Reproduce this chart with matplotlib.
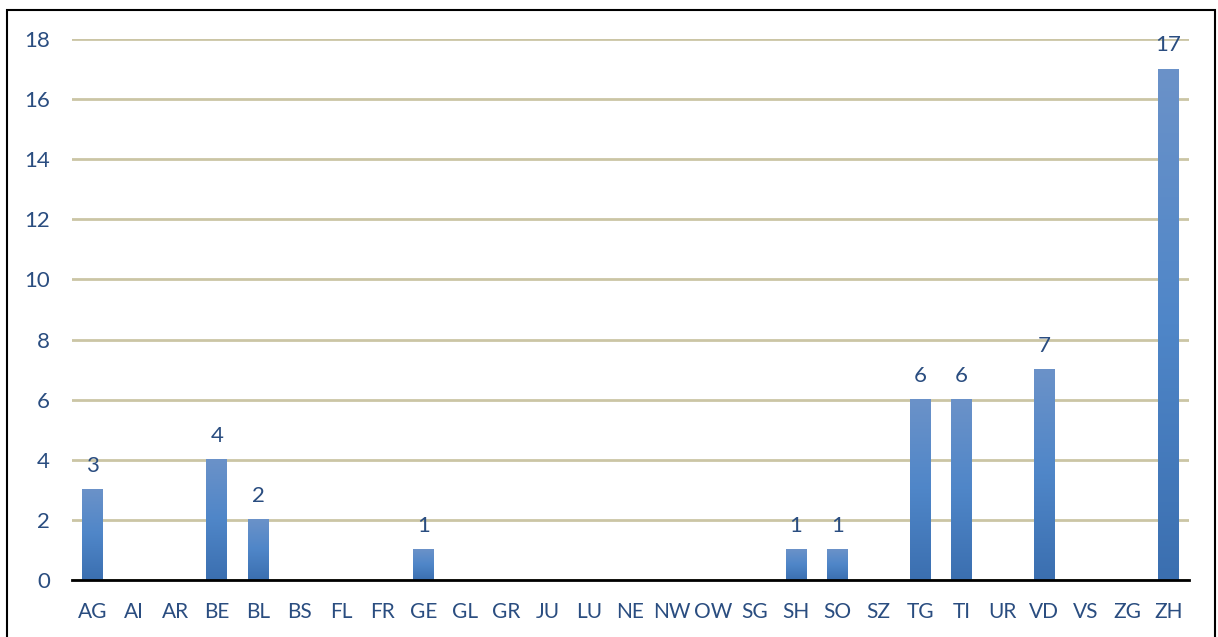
import numpy as np
import matplotlib.pyplot as plt
from matplotlib.colors import LinearSegmentedColormap
from matplotlib.patches import Rectangle

cantons = ['AG', 'AI', 'AR', 'BE', 'BL', 'BS', 'FL', 'FR', 'GE', 'GL', 'GR', 'JU', 'LU', 'NE',
           'NW', 'OW', 'SG', 'SH', 'SO', 'SZ', 'TG', 'TI', 'UR', 'VD', 'VS', 'ZG', 'ZH']
counts = [3, 0, 0, 4, 2, 0, 0, 0, 1, 0, 0, 0, 0, 0, 0, 0, 0, 1, 1, 0, 6, 6, 0, 7, 0, 0, 17]
y_ticks = [0, 2, 4, 6, 8, 10, 12, 14, 16, 18]

TEXT_COLOR = '#2a4d80'
GRID_COLOR = '#cbc5a5'
BAR_W = 0.5
FS = 16

plt.rcParams['font.family'] = ['Lato', 'DejaVu Sans']

fig = plt.figure(figsize=(12.18, 6.37), dpi=100)
ax = fig.add_axes([72 / 1218, 1 - 580 / 637, (1189 - 72) / 1218, (580 - 39) / 637])

# dunkel unten, hell oben - wie der Excel-Verlauf
cmap = LinearSegmentedColormap.from_list('bar', ['#3b6fb0', '#4f86c8', '#6b92c9'])
grad = np.linspace(0, 1, 256).reshape(-1, 1)

for i, v in enumerate(counts):
    if v == 0:
        continue
    ax.imshow(grad, cmap=cmap, origin='lower', aspect='auto',
              extent=(i - BAR_W / 2, i + BAR_W / 2, 0, v), zorder=3)
    ax.annotate(str(v), (i, v), xytext=(0, 10), textcoords='offset points',
                ha='center', va='bottom', fontsize=FS, color=TEXT_COLOR,
                annotation_clip=False, zorder=4)

ax.set_xlim(-0.5, len(cantons) - 0.5)
ax.set_ylim(0, 18)
ax.set_xticks(range(len(cantons)))
ax.set_xticklabels(cantons)
ax.set_yticks(y_ticks)
ax.tick_params(axis='both', length=0, labelsize=FS, labelcolor=TEXT_COLOR)
# Lato ist breiter als Calibri, sonst kleben NW und OW zusammen
ax.tick_params(axis='x', pad=16, labelsize=15)
ax.tick_params(axis='y', pad=16)

ax.grid(axis='y', color=GRID_COLOR, linewidth=2, zorder=0)
ax.set_axisbelow(True)
for side in ['top', 'right', 'left']:
    ax.spines[side].set_visible(False)
ax.spines['bottom'].set_linewidth(2)
ax.spines['bottom'].set_zorder(5)

# Rahmen um die ganze Grafik
fig.patches.append(Rectangle((7 / 1218, -0.05), (1215 - 7) / 1218, 1.05 - 10 / 637,
                             transform=fig.transFigure, fill=False,
                             edgecolor='black', linewidth=1.5))

fig.savefig('out.png', dpi=100)
